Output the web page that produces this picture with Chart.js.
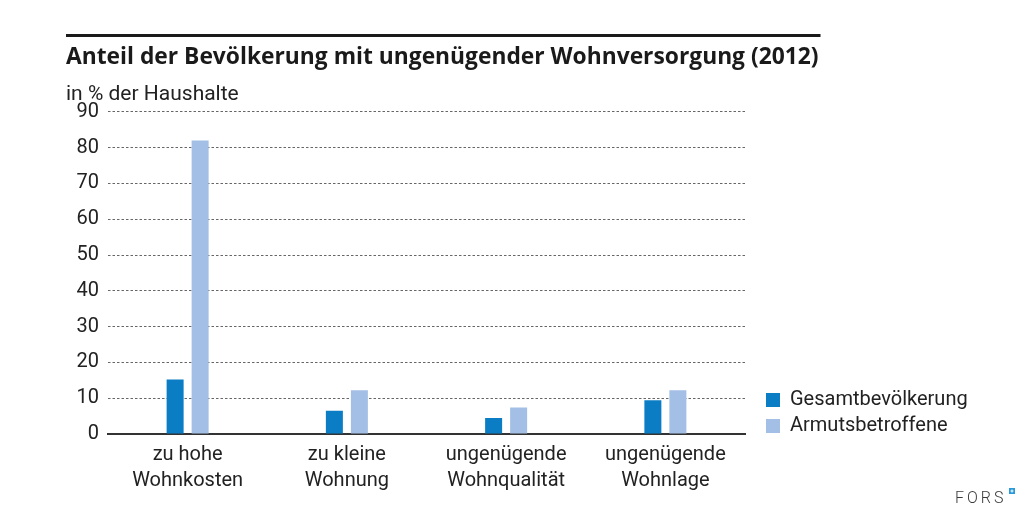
<!DOCTYPE html>
<html><head><meta charset="utf-8">
<script src="https://cdn.jsdelivr.net/npm/chart.js@4.4.1/dist/chart.umd.min.js"></script>
<style>html,body{margin:0;padding:0;background:#fff;overflow:hidden}</style>
</head><body>
<canvas id="c" width="1035" height="524" style="width:1035px;height:524px;display:block"></canvas>
<script>
const titleText = 'Anteil der Bevölkerung mit ungenügender Wohnversorgung (2012)';
const unitLabel = 'in % der Haushalte';
const categories = [['zu hohe', 'Wohnkosten'], ['zu kleine', 'Wohnung'], ['ungenügende', 'Wohnqualität'], ['ungenügende', 'Wohnlage']];
const seriesNames = ['Gesamtbevölkerung', 'Armutsbetroffene'];
const gesamtValues = [15.2, 6.5, 4.5, 9.4];
const armutValues = [82, 12.2, 7.4, 12.2];
const yMin = 0, yMax = 90, yStep = 10;
const sourceText = 'FORS';

const FONT = 'Roboto, "Open Sans", sans-serif';
const TFONT = '"Open Sans", Roboto, sans-serif';
const TXT = '#222222';
const DARK = '#0b7dc5';
const LIGHT = '#a3bfe5';

const mctx = document.createElement('canvas').getContext('2d');
mctx.font = '20px ' + FONT;
const legendTextW = Math.max(...seriesNames.map(s => mctx.measureText(s).width));
const legendPad = 6, legendBox = 14, legendFont = 20;
const legendW = legendPad + legendBox + legendFont / 2 + legendTextW + 10;
const plotRight = 745;
const padRight = Math.max(0, 1035 - plotRight - legendW);

const decor = {
  id: 'decor',
  afterLayout(chart) {
    const lg = chart.legend;
    if (!lg) return;
    const dx = chart.chartArea.right + 21 - legendPad - lg.left;
    lg.left += dx; lg.right += dx;
    const dy = 442 - lg.bottom;
    lg.top += dy; lg.bottom += dy;
  },
  afterDraw(chart) {
    const ctx = chart.ctx;
    ctx.save();
    ctx.font = 'bold 22.8px ' + TFONT;
    const tw = ctx.measureText(titleText).width;
    ctx.strokeStyle = '#1a1a1a';
    ctx.lineWidth = 3;
    ctx.beginPath();
    ctx.moveTo(66, 35.5);
    ctx.lineTo(66 + tw + 2, 35.5);
    ctx.stroke();
    ctx.font = '300 16px ' + FONT;
    ctx.fillStyle = '#3a3a3a';
    ctx.textBaseline = 'alphabetic';
    ctx.textAlign = 'left';
    try { ctx.letterSpacing = '3px'; } catch (e) {}
    ctx.fillText(sourceText, 955, 503);
    try { ctx.letterSpacing = '0px'; } catch (e) {}
    ctx.fillStyle = '#2a9ad8';
    ctx.fillRect(1009, 488, 6, 6);
    ctx.fillStyle = '#fff';
    ctx.fillRect(1011.5, 489.5, 1, 3);
    ctx.fillRect(1010.5, 490.5, 3, 1);
    ctx.restore();
  }
};

new Chart(document.getElementById('c'), {
  type: 'bar',
  data: {
    labels: categories,
    datasets: [
      { label: seriesNames[0], data: gesamtValues, backgroundColor: DARK, borderWidth: 0 },
      { label: seriesNames[1], data: armutValues, backgroundColor: LIGHT, borderWidth: 0 }
    ]
  },
  options: {
    responsive: false,
    animation: false,
    devicePixelRatio: 1,
    layout: { padding: { top: 36, left: 66, right: padRight, bottom: 22 } },
    datasets: { bar: { categoryPercentage: 0.314, barPercentage: 0.68 } },
    plugins: {
      title: {
        display: true, text: titleText, align: 'start', color: '#1a1a1a',
        font: { family: TFONT, size: 22.8, weight: 'bold', lineHeight: 1.2 },
        padding: { top: 7.5, bottom: 8 }
      },
      subtitle: {
        display: true, text: unitLabel, align: 'start', color: TXT,
        font: { family: FONT, size: 21, lineHeight: 1.2 },
        padding: { top: 3, bottom: 4.8 }
      },
      legend: {
        position: 'right', align: 'end',
        labels: {
          boxWidth: legendBox, boxHeight: legendBox, padding: legendPad, color: TXT,
          font: { family: FONT, size: legendFont }
        }
      },
      tooltip: { enabled: false }
    },
    scales: {
      x: {
        grid: { display: false, drawTicks: false },
        border: { display: true, color: '#333', width: 2 },
        ticks: {
          color: TXT, padding: 8, maxRotation: 0, autoSkip: false,
          font: { family: FONT, size: 20, lineHeight: 1.3 }
        }
      },
      y: {
        min: yMin, max: yMax,
        afterFit(scale) { scale.width = 42; },
        border: { display: false, dash: [2.5, 2] },
        grid: {
          drawTicks: false, lineWidth: 1,
          color: c => (c.tick && c.tick.value === 0) ? 'rgba(0,0,0,0)' : '#666'
        },
        ticks: {
          stepSize: yStep, color: TXT, padding: 9,
          font: { family: FONT, size: 20 }
        }
      }
    }
  },
  plugins: [decor]
});
</script>
</body></html>
